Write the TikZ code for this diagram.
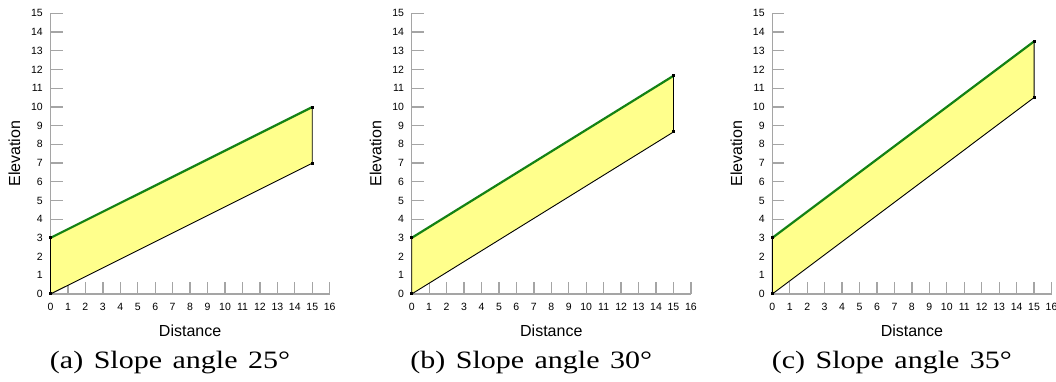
\documentclass[tikz,border=0pt]{standalone}
\usepackage{fontspec}
\setmainfont{Liberation Serif}
\setsansfont{Liberation Sans}
\usetikzlibrary{positioning}
\definecolor{slopefill}{RGB}{255,255,140}
\definecolor{slopegreen}{RGB}{20,130,20}
\definecolor{axisgray}{RGB}{165,165,165}
\tikzstyle{axisline} = [draw=axisgray, line width=1.3pt]
\tikzstyle{corner} = [fill=black, draw=none, minimum size=3pt, inner sep=0pt]

\begin{document}
\begin{tikzpicture}[
    x=1pt, y=1pt,
    ticklabel/.style={font=\sffamily\fontsize{10.5}{12}\selectfont, inner sep=0pt},
    axislabel/.style={font=\sffamily\fontsize{16}{18}\selectfont, inner sep=0pt},
    caption/.style={font=\fontsize{25}{28}\selectfont, inner sep=0pt}
]
\useasboundingbox (0,0) rectangle (1056,382);

% ======================
% one panel per slope angle
% ======================
\foreach \ox/\h/\tag/\ang in {50.5/6.99/a/25, 411.7/8.66/b/30, 772.3/10.50/c/35}{
\begin{scope}[shift={(\ox pt,88pt)}, x=17.45pt, y=18.71pt]
    % axes and ticks
    \draw[axisline] (0,15) -- (0,0) -- (16,0);
    \foreach \i in {1,...,16} \draw[axisline] (\i,0) -- ++(0pt,12pt);
    \foreach \j in {1,...,15} \draw[axisline] (0,\j) -- ++(12pt,0pt);
    \foreach \i in {0,...,16} \node[ticklabel] (xt\tag\i) at ([yshift=-13pt]\i,0) {\i};
    \foreach \j in {0,...,15} \node[ticklabel, anchor=east] (yt\tag\j) at ([xshift=-7.5pt]0,\j) {\j};

    % axis titles
    \node[axislabel] (dist\tag) at ([yshift=-37pt]8,0) {Distance};
    \node[axislabel, rotate=90] (elev\tag) at ([xshift=-36pt]0,7.5) {Elevation};

    % slope body
    \coordinate (toe\tag) at (0,0);
    \coordinate (crestL\tag) at (0,3);
    \coordinate (crestR\tag) at (15,\h+3);
    \coordinate (baseR\tag) at (15,\h);
    \fill[slopefill] (toe\tag) -- (crestL\tag) -- (crestR\tag) -- (baseR\tag) -- cycle;
    \draw[black, line width=0.9pt] (crestL\tag) -- (toe\tag) -- (baseR\tag) -- (crestR\tag);
    \draw[slopegreen, line width=2.2pt] (crestL\tag) -- (crestR\tag);
    \foreach \c in {toe,crestL,crestR,baseR} \node[corner] at (\c\tag) {};

    % caption
    \node[caption] (cap\tag) at ([yshift=-69pt]6.85,0)
        {\scalebox{1.2}[1]{(\tag)\hspace{0.35em}Slope\hspace{0.35em}angle\hspace{0.35em}\ang°}};
\end{scope}
}

\end{tikzpicture}
\end{document}
